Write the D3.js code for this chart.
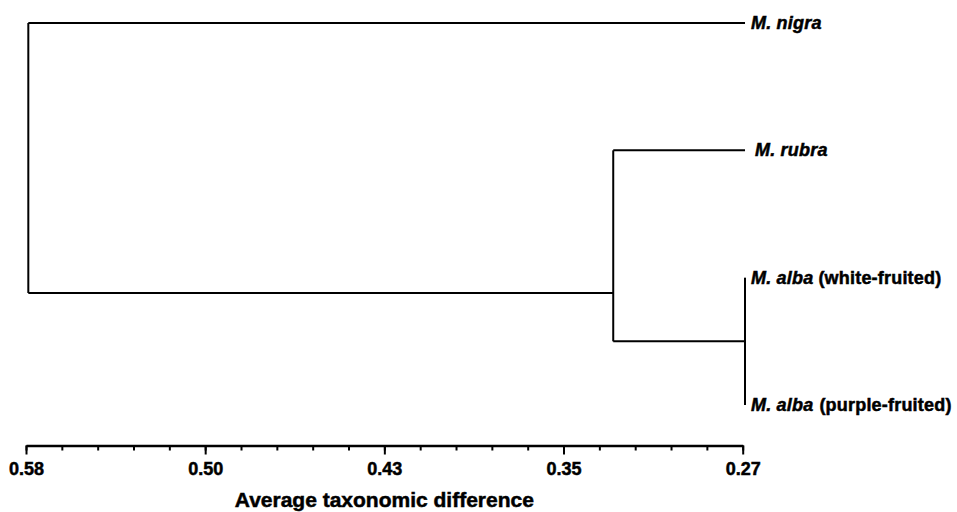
<!DOCTYPE html>
<html>
<head>
<meta charset="utf-8">
<script src="https://cdn.jsdelivr.net/npm/d3@7"></script>
<style>
    body { margin: 0; background: #fff; }
    text { font-family: "Liberation Sans", Arial, sans-serif; font-weight: bold; }
</style>
</head>
<body>
<div id="chart"></div>
<script>
// leaves, top to bottom
const leafSpecies = ["M. nigra", "M. rubra", "M. alba", "M. alba"]
const leafNotes = ["", "", "(white-fruited)", "(purple-fruited)"]
const leafHeights = [0.269, 0.269, 0.269, 0.269]

// joins (node ids 0-3 are leaves, joins get 4, 5, 6)
const joinChildren = [[2, 3], [1, 4], [0, 5]]
const joinHeights = [0.269, 0.326, 0.579]
const joinRows = [2.5, 2.12, null]   // row where the stem leaves each join

// axis
const majorTicks = [0.58, 0.5025, 0.425, 0.3475, 0.27]
const majorLabels = ["0.58", "0.50", "0.43", "0.35", "0.27"]
const minorTicks = d3.range(0, 21).map(i => 0.58 - i * 0.0155)
const axisTitle = "Average taxonomic difference"

let width = 957, height = 512

let svg = d3.select("#chart").append("svg")
    .attr("width", width)
    .attr("height", height)

let x = d3.scaleLinear().domain([0.58, 0.27]).range([26, 742.7])
let y = d3.scaleLinear().domain([0, 3]).range([23, 405])

// node positions
let nodes = leafSpecies.map((d, i) => ({h: leafHeights[i], row: i}))
joinChildren.forEach((c, i) => {
    nodes.push({h: joinHeights[i], row: joinRows[i], children: c})
})

let tree = svg.append("g")
    .attr("stroke", "#000")
    .attr("stroke-width", 2)
    .attr("fill", "none")

nodes.filter(n => n.children).forEach(n => {
    let a = nodes[n.children[0]], b = nodes[n.children[1]]
    tree.append("line")
        .attr("x1", x(n.h)).attr("x2", x(n.h))
        .attr("y1", y(a.row)).attr("y2", y(b.row))
    ;[a, b].forEach(c => {
        if (c.h === n.h) return
        tree.append("line")
            .attr("x1", x(n.h)).attr("x2", x(c.h))
            .attr("y1", y(c.row)).attr("y2", y(c.row))
    })
})

// heavy text look of the original
function heavy(sel, w) {
    sel.attr("stroke", "#000").attr("stroke-width", w).attr("fill", "#000")
}

// leaf labels
let labels = svg.append("g")
    .selectAll("text")
    .data(leafSpecies)
    .enter().append("text")
    .attr("x", (d, i) => x(leafHeights[i]) + (i === 1 ? 10 : 6))
    .attr("y", (d, i) => y(i) + 6)
    .attr("font-size", 18)
    .attr("letter-spacing", 0.2)
    .call(heavy, 0.5)

labels.append("tspan")
    .attr("font-style", "italic")
    .text(d => d)
labels.append("tspan")
    .attr("dx", (d, i) => i === 3 ? 6 : 5)
    .text((d, i) => leafNotes[i])

// axis
let axisY = 445.5

let minorAxis = d3.axisBottom(x)
    .tickValues(minorTicks)
    .tickSize(5)
    .tickSizeOuter(0)
    .tickFormat("")

let majorAxis = d3.axisBottom(x)
    .tickValues(majorTicks)
    .tickSize(9)
    .tickSizeOuter(0)
    .tickPadding(8)
    .tickFormat((d, i) => majorLabels[i])

svg.append("g")
    .attr("transform", `translate(0, ${axisY})`)
    .call(minorAxis)
    .call(g => g.selectAll("line").attr("stroke-width", 2))
    .call(g => g.select(".domain").attr("stroke-width", 2.4))

svg.append("g")
    .attr("transform", `translate(0, ${axisY})`)
    .call(majorAxis)
    .call(g => g.select(".domain").remove())
    .call(g => g.selectAll("line").attr("stroke-width", 2))
    .call(g => g.selectAll("text")
        .attr("font-size", 18)
        .attr("font-family", "Liberation Sans, Arial, sans-serif")
        .attr("font-weight", "bold")
        .call(heavy, 0.5))

svg.append("text")
    .attr("x", (x.range()[0] + x.range()[1]) / 2)
    .attr("y", 507)
    .attr("text-anchor", "middle")
    .attr("font-size", 21)
    .call(heavy, 0.5)
    .text(axisTitle)
</script>
</body>
</html>
